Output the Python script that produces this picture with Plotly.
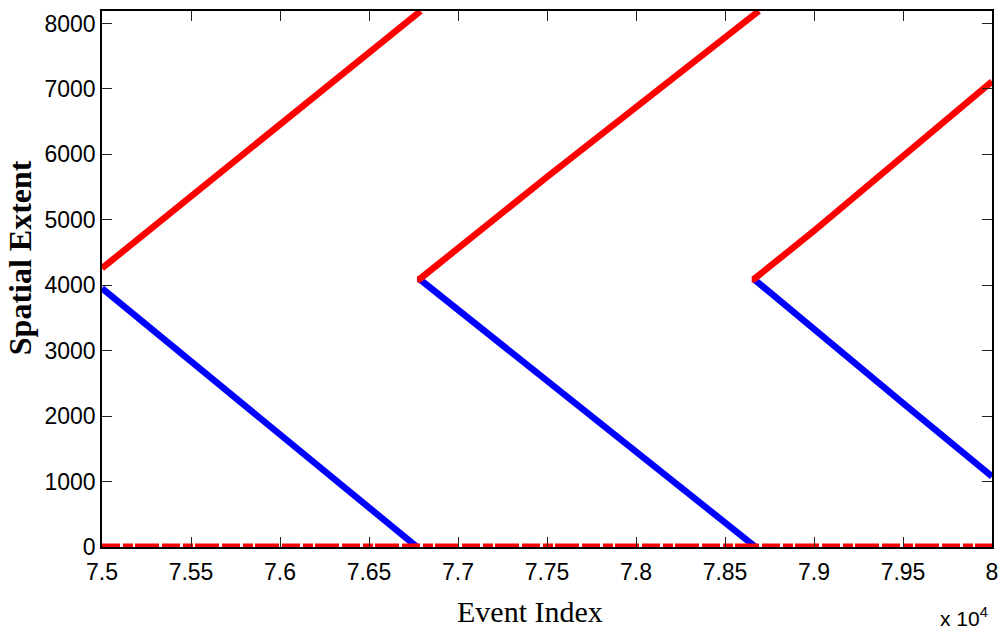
import plotly.graph_objects as go

# ---- data (event index, spatial extent) ----
red1_x = [75000, 75493, 75993, 76477, 76790]
red1_y = [4260, 5347, 6464, 7530, 8192]
blue1_x = [75000, 75493, 75993, 76496, 76770]
blue1_y = [3953, 2855, 1730, 625, 0]

red2_x = [76770, 76784, 77507, 78005, 78503, 78690]
red2_y = [4094, 4094, 5670, 6725, 7795, 8192]
blue2_x = [76784, 77507, 78005, 78503, 78672]
blue2_y = [4094, 2522, 1450, 375, 0]

red3_x = [78650, 78663, 78999, 79499, 80000]
red3_y = [4094, 4094, 4830, 5985, 7113]
blue3_x = [78663, 78999, 79499, 80000]
blue3_y = [4094, 3321, 2199, 1078]

zero_x = [75000, 80000]
zero_y = [0, 0]

x_tickvals = [75000, 75500, 76000, 76500, 77000, 77500, 78000, 78500, 79000, 79500, 80000]
x_ticktext = ["7.5", "7.55", "7.6", "7.65", "7.7", "7.75", "7.8", "7.85", "7.9", "7.95", "8"]
y_tickvals = [0, 1000, 2000, 3000, 4000, 5000, 6000, 7000, 8000]
y_ticktext = ["0", "1000", "2000", "3000", "4000", "5000", "6000", "7000", "8000"]

RED = "#ff0000"
BLUE = "#0000ff"
LW = 6.5

fig = go.Figure()
for xs, ys in [(blue1_x, blue1_y), (blue2_x, blue2_y), (blue3_x, blue3_y)]:
    fig.add_trace(go.Scatter(x=xs, y=ys, mode="lines",
                             line=dict(color=BLUE, width=LW), showlegend=False))
for xs, ys in [(red1_x, red1_y), (red2_x, red2_y), (red3_x, red3_y)]:
    fig.add_trace(go.Scatter(x=xs, y=ys, mode="lines",
                             line=dict(color=RED, width=LW), showlegend=False))
fig.add_trace(go.Scatter(x=zero_x, y=zero_y, mode="lines",
                         line=dict(color=RED, width=7, dash="18px,3px,10px,2px,24px,3px"),
                         showlegend=False))

SANS = "Liberation Sans, Arial, sans-serif"
SERIF = "Liberation Serif, Times New Roman, serif"
tickfont = dict(family=SANS, size=23, color="black")

fig.update_layout(
    width=1004, height=634,
    margin=dict(l=102, r=6, t=11, b=87),
    paper_bgcolor="white", plot_bgcolor="white",
    xaxis=dict(range=[75000, 80000], tickvals=x_tickvals, ticktext=x_ticktext,
               ticks="inside", ticklen=10, tickcolor="#222", tickwidth=1.3,
               showline=True, linecolor="black", linewidth=1.5, mirror="ticks",
               showgrid=False, zeroline=False, tickfont=tickfont, ticklabelstandoff=4),
    yaxis=dict(range=[0, 8192], tickvals=y_tickvals, ticktext=y_ticktext,
               ticks="inside", ticklen=10, tickcolor="#222", tickwidth=1.3,
               showline=True, linecolor="black", linewidth=1.5, mirror="ticks",
               showgrid=False, zeroline=False, tickfont=tickfont),
    annotations=[
        dict(text="x 10<sup>4</sup>", xref="paper", yref="paper", x=0.998, y=-0.158,
             xanchor="right", yanchor="bottom", showarrow=False,
             font=dict(family=SANS, size=21, color="black")),
        dict(text="Event Index", xref="paper", yref="paper", x=0.481, y=-0.12,
             xanchor="center", yanchor="middle", showarrow=False,
             font=dict(family=SERIF, size=30, color="black")),
        dict(text="<b>Spatial Extent</b>", xref="paper", yref="paper", x=-0.092, y=0.539,
             xanchor="center", yanchor="middle", textangle=-90, showarrow=False,
             font=dict(family=SERIF, size=32, color="black")),
    ],
)

fig.write_html("out.html")
